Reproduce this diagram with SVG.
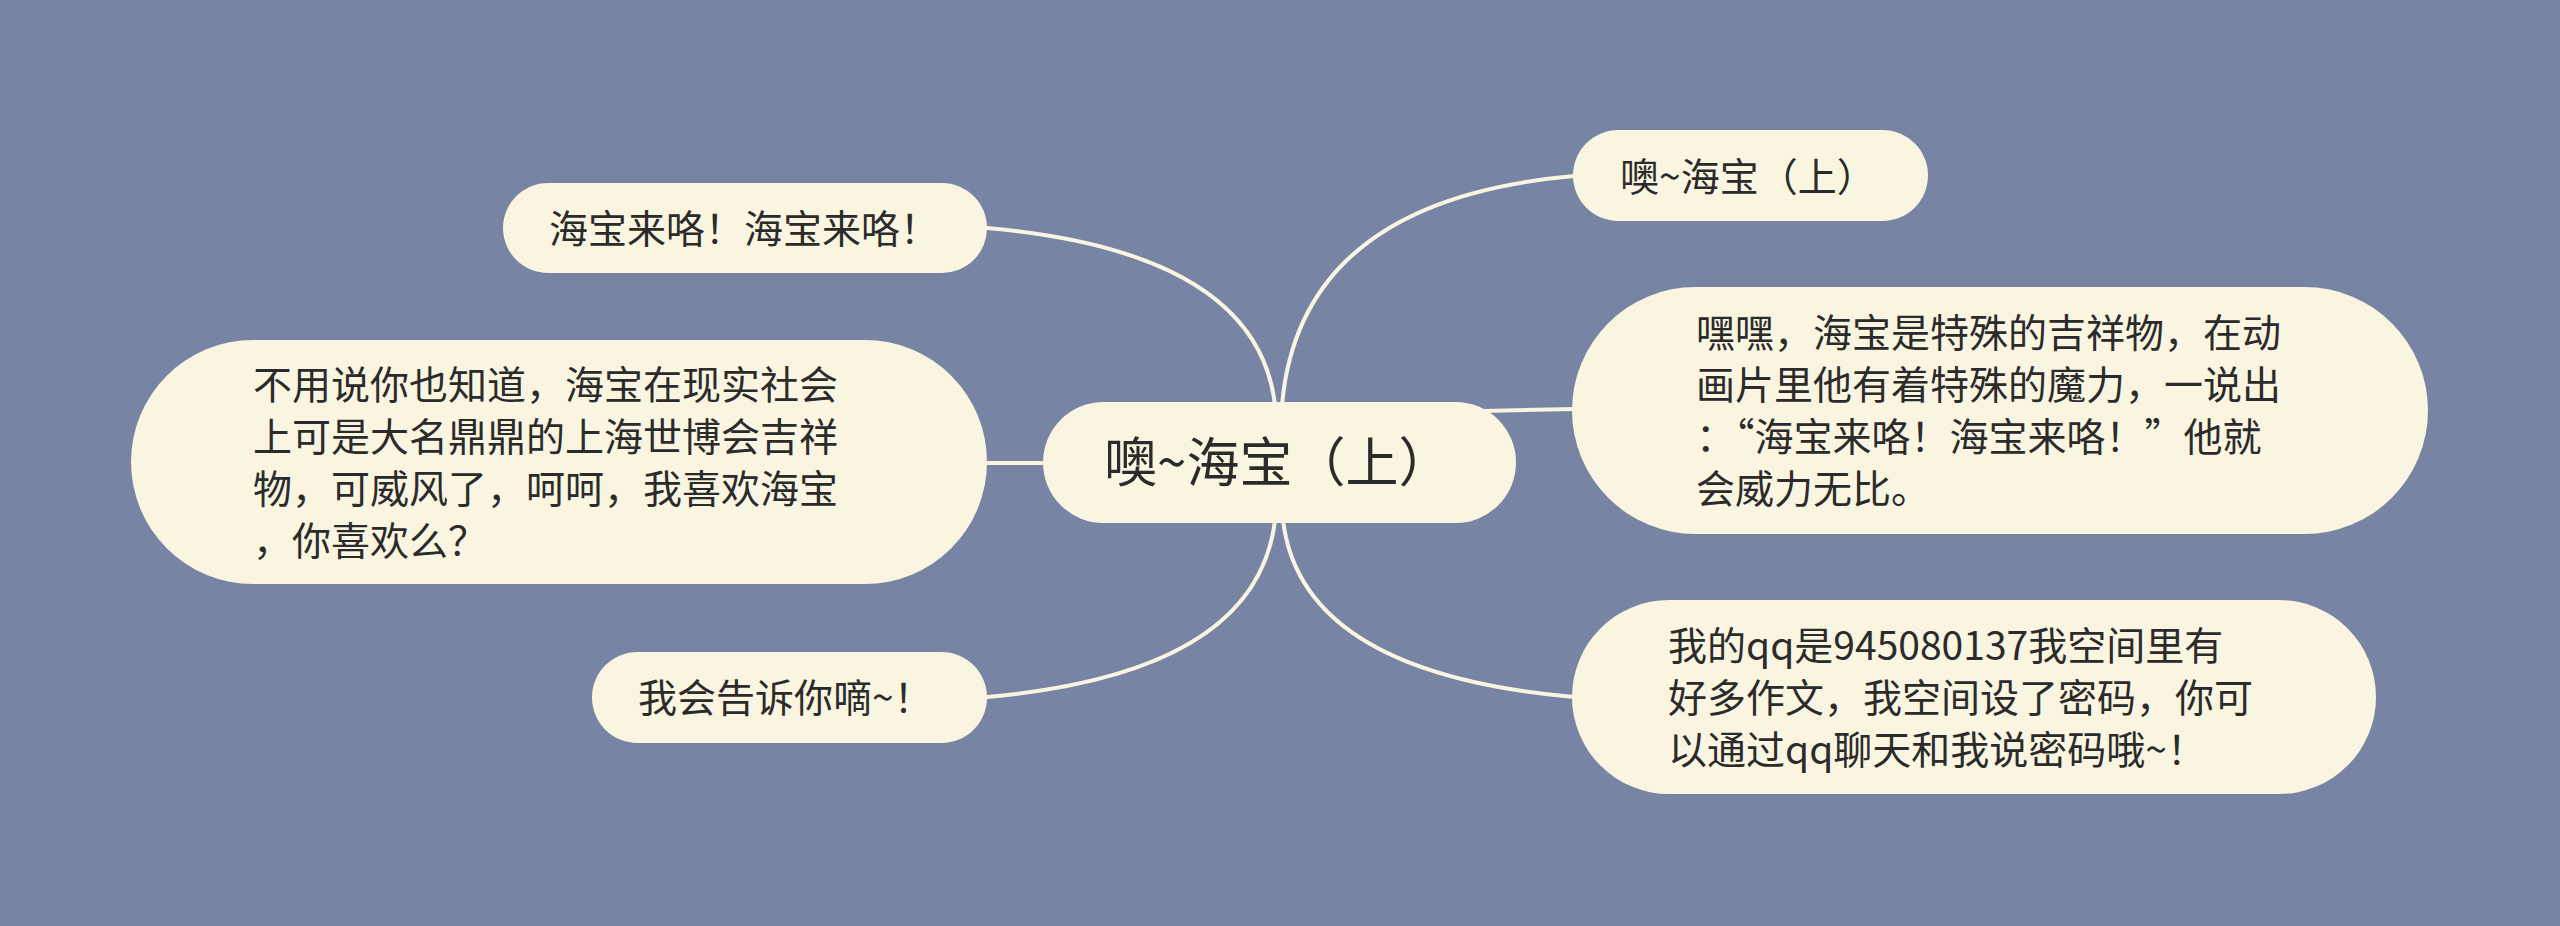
<svg xmlns="http://www.w3.org/2000/svg" width="2560" height="926" viewBox="0 0 2560 926">
<style>
.bg{fill:#7784A4}
.node{fill:#FAF5E1}
.edge{fill:none;stroke:#FAF5E1;stroke-width:4;stroke-linecap:round}
text{font-family:"Noto Sans CJK SC","Noto Sans",sans-serif;fill:#2B2B2B}
.t{font-size:39px}
.c{font-size:53px}
</style>
<rect class="bg" x="0" y="0" width="2560" height="926"/>
<g id="connectors">
<path class="edge" d="M1275,405 Q1257,252 987,228"/>
<path class="edge" d="M1060,463 L985,463"/>
<path class="edge" d="M1275,520 Q1257,673 987,697"/>
<path class="edge" d="M1282,405 Q1300,200 1574,176"/>
<path class="edge" d="M1440,412 L1574,409"/>
<path class="edge" d="M1283,520 Q1301,673 1574,697"/>
</g>
<g id="center">
<rect class="node" x="1043" y="402" width="473" height="121" rx="60.5"/>
<text class="c" x="1104" y="482">噢~海宝（上）</text>
</g>
<g id="n-top-right">
<rect class="node" x="1573" y="130" width="355" height="91" rx="45.5"/>
<text class="t" x="1620" y="191">噢~海宝（上）</text>
</g>
<g id="n-heihei">
<rect class="node" x="1572" y="287" width="856" height="247" rx="123.5"/>
<text class="t" x="1696" y="347">嘿嘿，海宝是特殊的吉祥物，在动</text>
<text class="t" x="1696" y="399">画片里他有着特殊的魔力，一说出</text>
<text class="t" x="1696" y="451">：“海宝来咯！海宝来咯！”他就</text>
<text class="t" x="1696" y="503">会威力无比。</text>
</g>
<g id="n-qq">
<rect class="node" x="1572" y="600" width="804" height="194" rx="97"/>
<text class="t" x="1668" y="660">我的qq是945080137我空间里有</text>
<text class="t" x="1668" y="712">好多作文，我空间设了密码，你可</text>
<text class="t" x="1668" y="764">以通过qq聊天和我说密码哦~！</text>
</g>
<g id="n-haibao">
<rect class="node" x="503" y="183" width="484" height="90" rx="45"/>
<text class="t" x="549" y="243">海宝来咯！海宝来咯！</text>
</g>
<g id="n-buyong">
<rect class="node" x="131" y="340" width="856" height="244" rx="122"/>
<text class="t" x="253" y="399">不用说你也知道，海宝在现实社会</text>
<text class="t" x="253" y="451">上可是大名鼎鼎的上海世博会吉祥</text>
<text class="t" x="253" y="503">物，可威风了，呵呵，我喜欢海宝</text>
<text class="t" x="253" y="555">，你喜欢么？</text>
</g>
<g id="n-gaosu">
<rect class="node" x="592" y="652" width="395" height="91" rx="45.5"/>
<text class="t" x="638" y="712">我会告诉你嘀~！</text>
</g>
</svg>
